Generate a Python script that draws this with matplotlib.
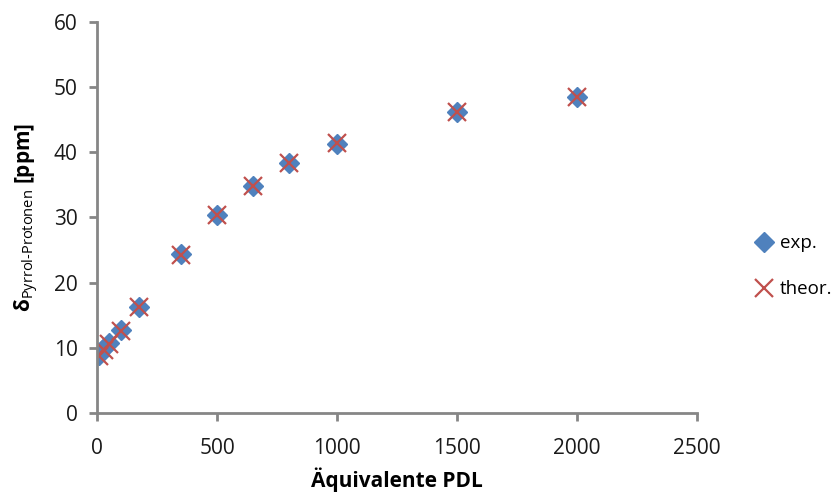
import matplotlib.pyplot as plt

# data
pdl = [10, 30, 50, 100, 175, 350, 500, 650, 800, 1000, 1500, 2000]
exp_ppm = [8.9, 10.0, 10.7, 12.7, 16.3, 24.4, 30.4, 34.8, 38.3, 41.3, 46.2, 48.4]
theo_ppm = [8.8, 9.7, 10.6, 12.6, 16.2, 24.3, 30.4, 34.8, 38.3, 41.4, 46.1, 48.5]

x_ticks = [0, 500, 1000, 1500, 2000, 2500]
y_ticks = [0, 10, 20, 30, 40, 50, 60]


def main():
    plt.rcParams["font.family"] = ["Open Sans", "DejaVu Sans"]
    plt.rcParams["mathtext.fontset"] = "custom"
    plt.rcParams["mathtext.rm"] = "Open Sans"
    plt.rcParams["mathtext.bf"] = "Open Sans:bold"

    fig = plt.figure(figsize=(8.4, 4.97), dpi=100)
    ax = fig.add_axes([0.1155, 0.169, 0.7145, 0.787])

    ax.plot(pdl, exp_ppm, linestyle="none", marker="D", markersize=10.5,
            color="#4F81BD", label="exp.")
    ax.plot(pdl, theo_ppm, linestyle="none", marker="x", markersize=13,
            markeredgewidth=1.6, color="#C0504D", label="theor.")

    ax.set_xlim(0, 2500)
    ax.set_ylim(0, 60)
    ax.set_xticks(x_ticks)
    ax.set_yticks(y_ticks)

    grey = "#868686"
    for side in ["top", "right"]:
        ax.spines[side].set_visible(False)
    for side in ["left", "bottom"]:
        ax.spines[side].set_color(grey)
        ax.spines[side].set_linewidth(2)
    ax.tick_params(direction="out", length=6, width=2, color=grey,
                   labelsize=15, labelcolor="#1a1a1a")
    ax.tick_params(axis="x", pad=12)
    ax.tick_params(axis="y", pad=8)

    ax.set_xlabel("Äquivalente PDL", fontsize=15, fontweight="bold", labelpad=6)
    ax.set_ylabel(r"$\mathbf{\delta}_{\mathrm{Pyrrol\text{-}Protonen}}$ [ppm]",
                  fontsize=15, fontweight="bold", labelpad=9)

    ax.legend(loc="center left", bbox_to_anchor=(1.075, 0.375), frameon=False,
              fontsize=13.5, handletextpad=0.1, labelspacing=1.5, borderaxespad=0,
              handlelength=1.5)

    fig.savefig("out.png", dpi=100)


if __name__ == "__main__":
    main()
